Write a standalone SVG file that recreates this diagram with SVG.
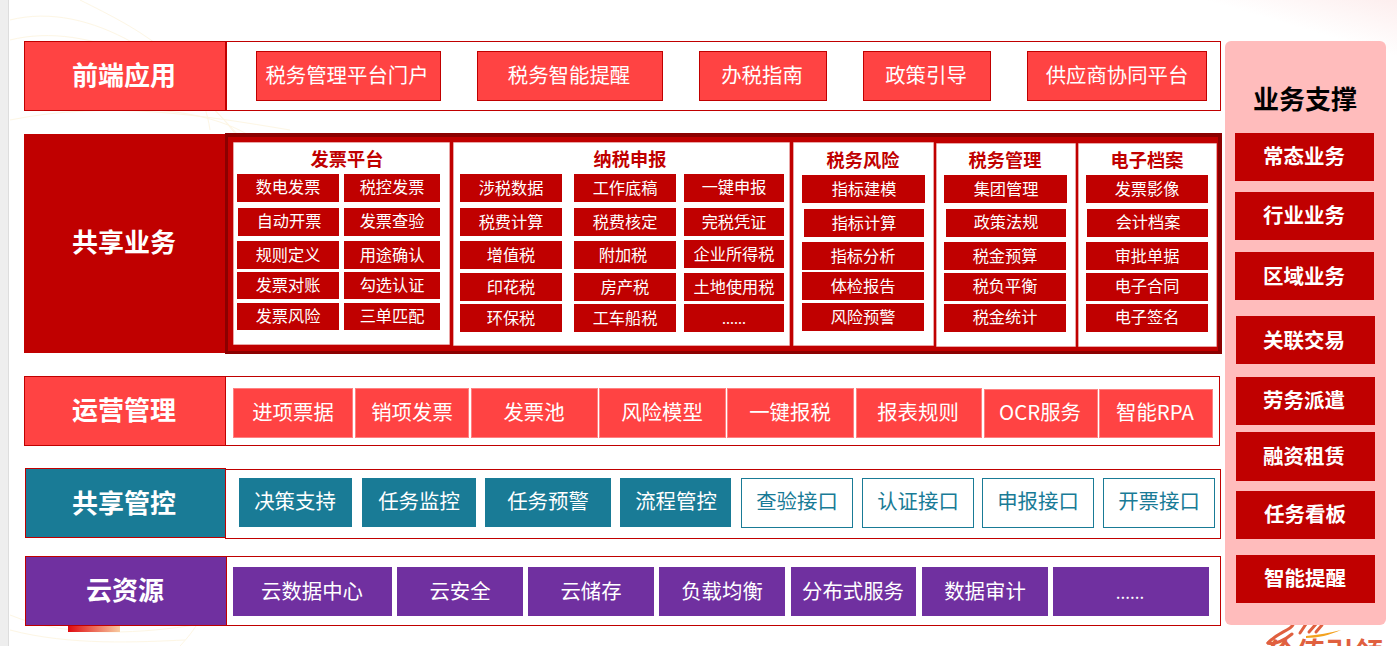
<svg xmlns="http://www.w3.org/2000/svg" width="1397" height="646" viewBox="0 0 1397 646">
<style>
text{font-family:"Noto Sans CJK SC","Liberation Sans",sans-serif;text-anchor:middle;fill:#fff}
.h{font-size:26px;font-weight:700}
.m{font-size:20.400px}
.s{font-size:16.200px}
.t{font-size:18.200px;font-weight:700;fill:#c00000}
.r{font-size:20.500px;font-weight:700}
.lt{fill:#ff4343;stroke:#c00000;stroke-width:1}
.op{fill:#ff4343;stroke:#ff8080;stroke-width:1}
.d{fill:#c00000}
.w{fill:#fff;stroke:#c00000;stroke-width:1}
.pn{fill:#fff;stroke:#ffffff;stroke-opacity:.6;stroke-width:1;stroke-dasharray:1 1}
.p{fill:#7030a0}
.c{fill:#197b96}
.o{fill:#fff;stroke:#197b96;stroke-width:1}
.ot{fill:#197b96}
.wm{fill:none;stroke:#fdf6e4;stroke-width:1}
.sw{fill:none;stroke:#e0603f;stroke-width:3;stroke-linecap:round}
</style>
<defs>
<linearGradient id="g"><stop offset="0" stop-color="#e00a10"/><stop offset="1" stop-color="#f8cba0"/></linearGradient>
<linearGradient id="tr" x1="1" y1="0" x2="0.800" y2="0.300"><stop offset="0" stop-color="#fdeeee"/><stop offset="1" stop-color="#ffffff"/></linearGradient>
</defs>
<rect width="1397" height="646" fill="#fff"/>
<rect x="1100" width="297" height="130" fill="url(#tr)"/>
<g id="watermark">
<path class="wm" d="M10 20C90 0 180 60 240 140S300 100 110 110"/>
<path class="wm" d="M10 40C90 20 190 70 250 150"/>
<path class="wm" d="M80 0C140 30 200 60 210 130"/>
<path class="wm" d="M10 120C110 100 200 115 290 130"/>
<path class="wm" d="M10 615C70 640 150 632 195 625"/>
<path class="wm" d="M10 630C70 646 140 642 185 640"/>
<path class="wm" d="M180 646C195 630 200 620 204 610"/>
</g>
<rect width="8" height="646" fill="#eeeeee"/>
<rect x="8" width="1" height="646" fill="#dddddd"/>
<rect x="68" y="620" width="52" height="12" fill="url(#g)"/>
<g id="logo">
<path class="sw" d="M1268 643C1274 636 1282 633 1290 628C1294 625 1294 622 1296 620"/>
<path class="sw" d="M1268 643C1275 645 1285 640 1292 634"/>
<path class="sw" d="M1300 633L1306 624M1309 632L1316 624M1316 632L1322 625"/>
<path d="M1306 636C1318 635 1330 633 1341 630C1330 635 1318 638 1306 638Z" fill="#f3a21f"/>
<text x="1325" y="664" style="font-size:29px;font-weight:700;fill:#e0603f">价值引领</text>
</g>
<g id="front">
<rect class="w" x="226.500" y="41.500" width="994" height="69"/>
<rect class="lt" x="24.500" y="41.500" width="201" height="69"/>
<text class="h" x="124" y="85">前端应用</text>
<rect class="lt" x="256.500" y="51.500" width="184" height="49"/><text class="m" x="347" y="83">税务管理平台门户</text>
<rect class="lt" x="477.500" y="51.500" width="185" height="49"/><text class="m" x="569" y="83">税务智能提醒</text>
<rect class="lt" x="699.500" y="51.500" width="127" height="49"/><text class="m" x="762" y="83">办税指南</text>
<rect class="lt" x="863.500" y="51.500" width="127" height="49"/><text class="m" x="926" y="83">政策引导</text>
<rect class="lt" x="1027.500" y="51.500" width="179" height="49"/><text class="m" x="1117" y="83">供应商协同平台</text>
</g>
<g id="shared">
<rect class="d" x="24" y="134" width="202" height="219"/>
<text class="h" x="124" y="252">共享业务</text>
<rect x="225" y="133" width="997" height="221" fill="#8b0000"/>
<rect class="d" x="228" y="137" width="990" height="214"/>
<rect class="pn" x="233.500" y="142.500" width="216" height="202"/>
<rect class="pn" x="453.500" y="142.500" width="336" height="203"/>
<rect class="pn" x="793.500" y="142.500" width="140" height="203"/>
<rect class="pn" x="936.500" y="143.500" width="139" height="203"/>
<rect class="pn" x="1078.500" y="143.500" width="138" height="203"/>
<text class="t" x="347" y="166">发票平台</text>
<text class="t" x="630" y="166">纳税申报</text>
<text class="t" x="863" y="167">税务风险</text>
<text class="t" x="1005" y="167">税务管理</text>
<text class="t" x="1147" y="167">电子档案</text>
<rect class="d" x="237" y="174" width="102" height="28"/><text class="s" x="288" y="193">数电发票</text>
<rect class="d" x="344" y="174" width="96" height="28"/><text class="s" x="392" y="193">税控发票</text>
<rect class="d" x="238" y="208" width="101" height="28"/><text class="s" x="289" y="227">自动开票</text>
<rect class="d" x="344" y="208" width="96" height="28"/><text class="s" x="392" y="227">发票查验</text>
<rect class="d" x="237" y="241" width="102" height="28"/><text class="s" x="288" y="261">规则定义</text>
<rect class="d" x="344" y="241" width="96" height="28"/><text class="s" x="392" y="261">用途确认</text>
<rect class="d" x="237" y="272" width="102" height="27"/><text class="s" x="288" y="291">发票对账</text>
<rect class="d" x="344" y="272" width="96" height="27"/><text class="s" x="392" y="291">勾选认证</text>
<rect class="d" x="237" y="303" width="102" height="27"/><text class="s" x="288" y="322">发票风险</text>
<rect class="d" x="344" y="303" width="96" height="27"/><text class="s" x="392" y="322">三单匹配</text>
<rect class="d" x="460" y="174" width="102" height="28"/><text class="s" x="511" y="194">涉税数据</text>
<rect class="d" x="574" y="174" width="102" height="28"/><text class="s" x="625" y="194">工作底稿</text>
<rect class="d" x="684" y="174" width="100" height="28"/><text class="s" x="734" y="193">一键申报</text>
<rect class="d" x="460" y="208" width="102" height="28"/><text class="s" x="511" y="228">税费计算</text>
<rect class="d" x="574" y="208" width="102" height="28"/><text class="s" x="625" y="228">税费核定</text>
<rect class="d" x="684" y="208" width="100" height="28"/><text class="s" x="734" y="228">完税凭证</text>
<rect class="d" x="460" y="241" width="102" height="28"/><text class="s" x="511" y="261">增值税</text>
<rect class="d" x="574" y="241" width="102" height="28"/><text class="s" x="623" y="261">附加税</text>
<rect class="d" x="684" y="240" width="100" height="28"/><text class="s" x="734" y="260">企业所得税</text>
<rect class="d" x="460" y="273" width="102" height="28"/><text class="s" x="511" y="293">印花税</text>
<rect class="d" x="574" y="273" width="102" height="28"/><text class="s" x="625" y="293">房产税</text>
<rect class="d" x="684" y="273" width="100" height="28"/><text class="s" x="734" y="293">土地使用税</text>
<rect class="d" x="460" y="304" width="102" height="28"/><text class="s" x="511" y="324">环保税</text>
<rect class="d" x="574" y="304" width="102" height="28"/><text class="s" x="625" y="324">工车船税</text>
<rect class="d" x="684" y="304" width="100" height="28"/><text x="734" y="324" style="font-size:14.500px">......</text>
<rect class="d" x="802" y="175" width="123" height="28"/><text class="s" x="864" y="195">指标建模</text>
<rect class="d" x="804" y="209" width="120" height="28"/><text class="s" x="864" y="229">指标计算</text>
<rect class="d" x="802" y="242" width="122" height="28"/><text class="s" x="863" y="262">指标分析</text>
<rect class="d" x="802" y="272" width="122" height="28"/><text class="s" x="863" y="292">体检报告</text>
<rect class="d" x="802" y="303" width="122" height="28"/><text class="s" x="863" y="323">风险预警</text>
<rect class="d" x="944" y="175" width="123" height="28"/><text class="s" x="1006" y="195">集团管理</text>
<rect class="d" x="946" y="209" width="120" height="28"/><text class="s" x="1006" y="228">政策法规</text>
<rect class="d" x="944" y="242" width="122" height="28"/><text class="s" x="1005" y="262">税金预算</text>
<rect class="d" x="944" y="273" width="122" height="28"/><text class="s" x="1005" y="292">税负平衡</text>
<rect class="d" x="944" y="304" width="122" height="28"/><text class="s" x="1005" y="323">税金统计</text>
<rect class="d" x="1086" y="175" width="122" height="28"/><text class="s" x="1147" y="195">发票影像</text>
<rect class="d" x="1087" y="209" width="121" height="28"/><text class="s" x="1148" y="228">会计档案</text>
<rect class="d" x="1086" y="242" width="122" height="28"/><text class="s" x="1147" y="262">审批单据</text>
<rect class="d" x="1086" y="273" width="122" height="28"/><text class="s" x="1147" y="292">电子合同</text>
<rect class="d" x="1086" y="304" width="122" height="28"/><text class="s" x="1147" y="323">电子签名</text>
</g>
<g id="ops">
<rect class="w" x="225.500" y="376.500" width="994" height="69"/>
<rect class="lt" x="24.500" y="376.500" width="201" height="69"/>
<text class="h" x="124" y="420">运营管理</text>
<rect class="op" x="233.500" y="388.500" width="119" height="49"/><rect class="op" x="355.500" y="388.500" width="113" height="49"/><rect class="op" x="471.500" y="388.500" width="126" height="49"/><rect class="op" x="599.500" y="388.500" width="126" height="49"/><rect class="op" x="727.500" y="388.500" width="126" height="49"/><rect class="op" x="856.500" y="388.500" width="125" height="49"/><rect class="op" x="984.500" y="389.500" width="113" height="48"/><rect class="op" x="1099.500" y="389.500" width="113" height="48"/>
<text class="m" x="293" y="420">进项票据</text>
<text class="m" x="412" y="420">销项发票</text>
<text class="m" x="534" y="420">发票池</text>
<text class="m" x="662" y="420">风险模型</text>
<text class="m" x="790" y="420">一键报税</text>
<text class="m" x="918" y="420">报表规则</text>
<text class="m" x="1040" y="420">OCR服务</text>
<text class="m" x="1155" y="420">智能RPA</text>
</g>
<g id="control">
<rect class="w" x="225.500" y="469.500" width="995" height="69"/>
<rect class="c" x="25.500" y="468.500" width="200" height="69" stroke="#c00000"/>
<text class="h" x="124" y="513">共享管控</text>
<rect class="c" x="239" y="478" width="113" height="49"/><text class="m" x="295" y="509">决策支持</text>
<rect class="c" x="362" y="478" width="114" height="49"/><text class="m" x="419" y="509">任务监控</text>
<rect class="c" x="485" y="478" width="126" height="49"/><text class="m" x="548" y="509">任务预警</text>
<rect class="c" x="620" y="478" width="111" height="49"/><text class="m" x="676" y="509">流程管控</text>
<rect class="o" x="741.500" y="478.500" width="111" height="49"/><text class="m ot" x="797" y="509">查验接口</text>
<rect class="o" x="862.500" y="478.500" width="111" height="49"/><text class="m ot" x="918" y="509">认证接口</text>
<rect class="o" x="982.500" y="478.500" width="111" height="49"/><text class="m ot" x="1038" y="509">申报接口</text>
<rect class="o" x="1103.500" y="478.500" width="111" height="49"/><text class="m ot" x="1159" y="509">开票接口</text>
</g>
<g id="cloud">
<rect class="w" x="226.500" y="556.500" width="994" height="69"/>
<rect class="p" x="25.500" y="556.500" width="201" height="69" stroke="#c00000"/>
<text class="h" x="125" y="600">云资源</text>
<rect class="p" x="233" y="567" width="159" height="49"/><text class="m" x="312" y="599">云数据中心</text>
<rect class="p" x="397" y="567" width="126" height="49"/><text class="m" x="460" y="599">云安全</text>
<rect class="p" x="528" y="567" width="126" height="49"/><text class="m" x="591" y="599">云储存</text>
<rect class="p" x="659" y="567" width="126" height="49"/><text class="m" x="722" y="599">负载均衡</text>
<rect class="p" x="791" y="567" width="125" height="49"/><text class="m" x="853" y="599">分布式服务</text>
<rect class="p" x="922" y="567" width="126" height="49"/><text class="m" x="985" y="599">数据审计</text>
<rect class="p" x="1053" y="567" width="156" height="49"/><text x="1130" y="599" style="font-size:17px">......</text>
</g>
<g id="support">
<rect x="1225" y="41" width="161" height="584" rx="6" fill="#ffbcbc"/>
<text x="1305" y="109" style="font-size:26px;font-weight:700;fill:#000">业务支撑</text>
<rect class="d" x="1235" y="133" width="139" height="48"/><text class="r" x="1304" y="164">常态业务</text>
<rect class="d" x="1235" y="192" width="139" height="48"/><text class="r" x="1304" y="223">行业业务</text>
<rect class="d" x="1235" y="252" width="139" height="48"/><text class="r" x="1304" y="284">区域业务</text>
<rect class="d" x="1236" y="316" width="139" height="48"/><text class="r" x="1304" y="348">关联交易</text>
<rect class="d" x="1236" y="377" width="139" height="48"/><text class="r" x="1304" y="408">劳务派遣</text>
<rect class="d" x="1236" y="432" width="139" height="49"/><text class="r" x="1304" y="464">融资租赁</text>
<rect class="d" x="1236" y="491" width="139" height="48"/><text class="r" x="1305" y="522">任务看板</text>
<rect class="d" x="1236" y="555" width="139" height="48"/><text class="r" x="1305" y="586">智能提醒</text>
</g>
</svg>
